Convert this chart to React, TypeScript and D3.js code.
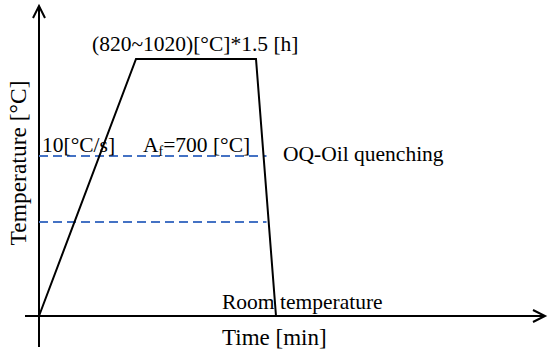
import React from "react";
import * as d3 from "d3";

// heat-treatment schedule (arbitrary time units, temperature in % of chart height)
const stageTime = [0, 19.4, 43.4, 47.4];
const stageTemp = [0, 85.7, 85.7, 0];
const refLevels = [53.3, 31.3]; // Af line and lower dashed line
const refEnd = 45.5;

const width = 550;
const height = 358;

export default function App() {
  const x = d3.scaleLinear().domain([0, 100]).range([39, 539]);
  const y = d3.scaleLinear().domain([0, 100]).range([316, 16]);

  const line = d3
    .line<number>()
    .x((d, i) => x(stageTime[i]))
    .y((d) => y(d));

  const font = "'Liberation Serif', 'Times New Roman', serif";
  const x0 = x(0);
  const y0 = y(0);

  return (
    <svg
      width={width}
      height={height}
      style={{ position: "absolute", left: 0, top: 0, background: "#fff" }}
      fontFamily={font}
      fontSize={21.5}
      fill="#000"
    >
      {/* axes */}
      <line x1={x0} y1={347} x2={x0} y2={6} stroke="#000" strokeWidth={2} />
      <polyline
        points={`${x0 - 6},${18} ${x0},${6} ${x0 + 6},${18}`}
        fill="none"
        stroke="#000"
        strokeWidth={2}
      />
      <line x1={25} y1={y0} x2={545} y2={y0} stroke="#000" strokeWidth={2} />
      <polyline
        points={`${533},${y0 - 6} ${545},${y0} ${533},${y0 + 6}`}
        fill="none"
        stroke="#000"
        strokeWidth={2}
      />

      {/* reference levels */}
      {refLevels.map((t, i) => (
        <line
          key={i}
          x1={x0}
          x2={x(refEnd)}
          y1={y(t)}
          y2={y(t)}
          stroke="#4472C4"
          strokeWidth={2}
          strokeDasharray="9,5"
        />
      ))}

      {/* schedule */}
      <path d={line(stageTemp) || ""} fill="none" stroke="#000" strokeWidth={2} />

      {/* labels */}
      <text x={92} y={51}>(820~1020)[°C]*1.5 [h]</text>
      <text x={42} y={152}>10[°C/s]</text>
      <text x={143} y={152}>
        A<tspan fontSize={14} dy={4}>f</tspan>
        <tspan dy={-4}>=700 [°C]</tspan>
      </text>
      <text x={283} y={161}>OQ-Oil quenching</text>
      <text x={222} y={309}>Room temperature</text>
      <text x={222} y={345} fontSize={23}>Time [min]</text>
      <text
        transform={`translate(26, 163) rotate(-90)`}
        textAnchor="middle"
        fontSize={23.5}
      >
        Temperature [°C]
      </text>
    </svg>
  );
}
